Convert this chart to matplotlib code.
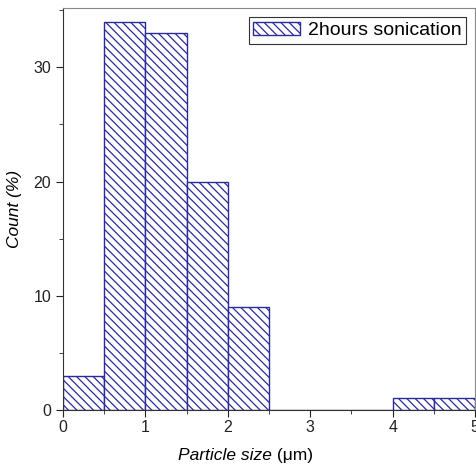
import numpy as np
import matplotlib
matplotlib.use("Agg")
import matplotlib.pyplot as plt
from matplotlib.ticker import MultipleLocator

plt.rcParams['font.family'] = ['Liberation Sans', 'DejaVu Sans']
plt.rcParams['hatch.linewidth'] = 0.9

bin_edges = [0, 0.5, 1, 1.5, 2, 2.5, 3, 3.5, 4, 4.5, 5]
counts = [3, 34, 33, 20, 9, 0, 0, 0, 1, 1]
navy = '#2b2b9a'

fig = plt.figure(figsize=(4.77, 4.70), dpi=100)
ax = fig.add_axes([0.132, 0.128, 0.864, 0.855])

lefts = np.array(bin_edges[:-1])
widths = np.diff(bin_edges)
plt.rcParams['hatch.color'] = '#5c5cc0'
ax.bar(lefts, counts, width=widths, align='edge', facecolor='white',
       edgecolor=navy, linewidth=1.0, hatch='\\\\\\\\',
       label='2hours sonication')

ax.set_xlim(0, 5)
ax.set_ylim(0, 35.2)
ax.xaxis.set_major_locator(MultipleLocator(1))
ax.xaxis.set_minor_locator(MultipleLocator(0.5))
ax.yaxis.set_major_locator(MultipleLocator(10))
ax.yaxis.set_minor_locator(MultipleLocator(5))
ax.tick_params(which='both', direction='out', labelsize=11.5, colors='#222222')
ax.tick_params(which='major', length=5)
ax.tick_params(which='minor', length=3)
ax.tick_params(axis='x', pad=2)

for s in ['left', 'bottom']:
    ax.spines[s].set_color('#333333')
for s in ['top', 'right']:
    ax.spines[s].set_color('#888888')

fig.text(0.57, 0.022, 'Particle size', fontsize=12.5, style='italic', ha='right')
fig.text(0.57, 0.022, ' (\u03bcm)', fontsize=12.5, ha='left')
ax.set_ylabel('Count (%)', fontsize=12.5, style='italic', labelpad=8)

leg = ax.legend(loc='upper right', fontsize=14, fancybox=False, framealpha=1,
                edgecolor='#333333', borderpad=0.25, handlelength=2.4,
                handletextpad=0.4, borderaxespad=0.45)
leg.get_frame().set_linewidth(0.8)

fig.savefig('out.png', dpi=100)
